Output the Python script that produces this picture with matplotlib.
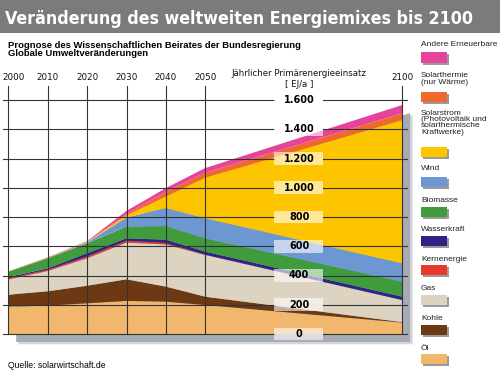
import matplotlib.pyplot as plt
import matplotlib.patches as mpatches

# Stützjahre der Prognose
years = [2000, 2010, 2020, 2030, 2040, 2050, 2100]

# Primärenergie je Träger in EJ/a
oel = [187, 194, 210, 226, 221, 198, 78]
kohle = [82, 98, 120, 148, 103, 57, 3]
gas = [103, 139, 188, 251, 288, 285, 151]
kernenergie = [8, 9, 12, 13, 10, 2, 0]
wasserkraft = [10, 9, 22, 16, 23, 21, 23]
biomasse = [36, 69, 68, 80, 93, 91, 103]
wind = [0, 1, 6, 63, 123, 137, 125]
solarstrom = [0, 1, 3, 13, 78, 277, 980]
solarthermie = [1, 2, 3, 10, 34, 35, 46]
andere = [1, 2, 3, 22, 25, 32, 57]

y_ticks = [0, 200, 400, 600, 800, 1000, 1200, 1400, 1600]
y_labels = ['0', '200', '400', '600', '800', '1.000', '1.200', '1.400', '1.600']
grid_years = [2000, 2010, 2020, 2030, 2040, 2050, 2100]

legend_labels = ['Andere Erneuerbare', 'Solarthermie\n(nur Wärme)',
                 'Solarstrom\n(Photovoltaik und\nsolarthermische\nKraftwerke)',
                 'Wind', 'Biomasse', 'Wasserkraft', 'Kernenergie', 'Gas', 'Kohle', 'Öl']
colors = ['#e6449c', '#f0692c', '#fdc400', '#6d97d1', '#3f9b3b',
          '#2d2484', '#e8392a', '#ddd3c1', '#6d3914', '#f1b76c']

W, H = 500, 373
fig = plt.figure(figsize=(W / 100, H / 100), dpi=100)
fig.patch.set_facecolor('white')

def fx(px):
    return px / W

def fy(py):
    return 1 - py / H

# Plotbereich: 2000 bei x=8.3px, 2100 bei x=402.3px, 0 bei y=334px, 1600 bei y=100px
ax = fig.add_axes([fx(8.3), fy(334), 394 / W, 234 / H])
ax.set_xlim(2000, 2100)
ax.set_ylim(0, 1600)
ax.axis('off')

layers = [oel, kohle, gas, kernenergie, wasserkraft, biomasse, wind,
          solarstrom, solarthermie, andere]
total = [sum(v) for v in zip(*layers)]

# Schatten
for dx, dy, c in [(2.6, -70, '#d3d5da'), (2.0, -55, '#a7abb4')]:
    pts = [(2000 + dx, dy)] + [(x + dx, t + dy) for x, t in zip(years, total)] + [(2100 + dx, dy)]
    ax.add_patch(mpatches.Polygon(pts, closed=True, facecolor=c, edgecolor='none',
                                  clip_on=False, zorder=0))

ax.stackplot(years, *layers, colors=colors[::-1], linewidth=0, zorder=1)

# Gitter
box_l, box_r, lab_x = 2067.4, 2079.9, 2073.8
for v, lab in zip(y_ticks, y_labels):
    ax.plot([1998.6, box_l], [v, v], color='#333333', lw=0.8, clip_on=False, zorder=2)
    ax.plot([box_r, 2101.2], [v, v], color='#333333', lw=0.8, clip_on=False, zorder=2)
    ax.add_patch(mpatches.Rectangle((box_l, v - 44), box_r - box_l, 88, facecolor='white',
                                    alpha=0.6, edgecolor='none', clip_on=False, zorder=3))
    ax.text(lab_x, v, lab, ha='center', va='center', fontsize=7, fontweight='bold',
            color='black', zorder=4)
for yr in grid_years:
    ax.plot([yr, yr], [0, 1696], color='#333333', lw=0.8, clip_on=False, zorder=2)
    xt = yr + 1.4 if yr == 2000 else yr
    ax.text(xt, 1757, str(yr), ha='center', va='center', fontsize=6.3, color='#111111')

ax.text(lab_x, 1778, 'Jährlicher Primärenergieeinsatz', ha='center', va='center',
        fontsize=6.2, color='#111111')
ax.text(lab_x, 1709, '[ EJ/a ]', ha='center', va='center', fontsize=6.2, color='#111111')

# Titelbalken
fig.patches.append(mpatches.Rectangle((0, fy(33)), 1, 33 / H, transform=fig.transFigure,
                                      facecolor='#7b7b7b', edgecolor='none', zorder=0))
title = fig.text(fx(5), fy(24), 'Veränderung des weltweiten Energiemixes bis 2100',
                 fontsize=15.5, fontweight='bold', color='white', va='baseline', ha='left',
                 family='DejaVu Sans', fontstretch='condensed')
# Titel auf die Breite im Original (ca. 468 px) bringen
renderer = fig.canvas.get_renderer()
tw = title.get_window_extent(renderer).width
title.set_fontsize(15.5 * 468 / tw)

fig.text(fx(8), fy(45.5), 'Prognose des Wissenschaftlichen Beirates der Bundesregierung',
         fontsize=6.8, fontweight='bold', va='center', family=['Liberation Sans', 'DejaVu Sans'])
fig.text(fx(8), fy(54), 'Globale Umweltveränderungen',
         fontsize=6.8, fontweight='bold', va='center', family=['Liberation Sans', 'DejaVu Sans'])
fig.text(fx(8), fy(366), 'Quelle: solarwirtschaft.de', fontsize=6.2, va='center',
         family=['Liberation Sans', 'DejaVu Sans'])

# Legende rechts
text_y = [45, 75.7, 113.3, 168.3, 200.7, 229.3, 259.3, 288.7, 318.7, 348.3]
swatch_y = [52.5, 91.7, 147.3, 176.7, 206.7, 236, 265.3, 295.3, 324.5, 354]
for lab, c, ty, sy in zip(legend_labels, colors, text_y, swatch_y):
    for i, line in enumerate(lab.split('\n')):
        fig.text(fx(421), fy(ty + i * 6.3), line, fontsize=6.0, va='center', color='#222222',
                 family=['Liberation Sans', 'DejaVu Sans'])
    fig.patches.append(mpatches.Rectangle((fx(423), fy(sy + 12)), 26 / W, 10 / H,
                                          transform=fig.transFigure, facecolor='#9b9b9b',
                                          edgecolor='none'))
    fig.patches.append(mpatches.Rectangle((fx(421), fy(sy + 10)), 26 / W, 10 / H,
                                          transform=fig.transFigure, facecolor=c,
                                          edgecolor='none'))

fig.savefig('out.png', dpi=100)
